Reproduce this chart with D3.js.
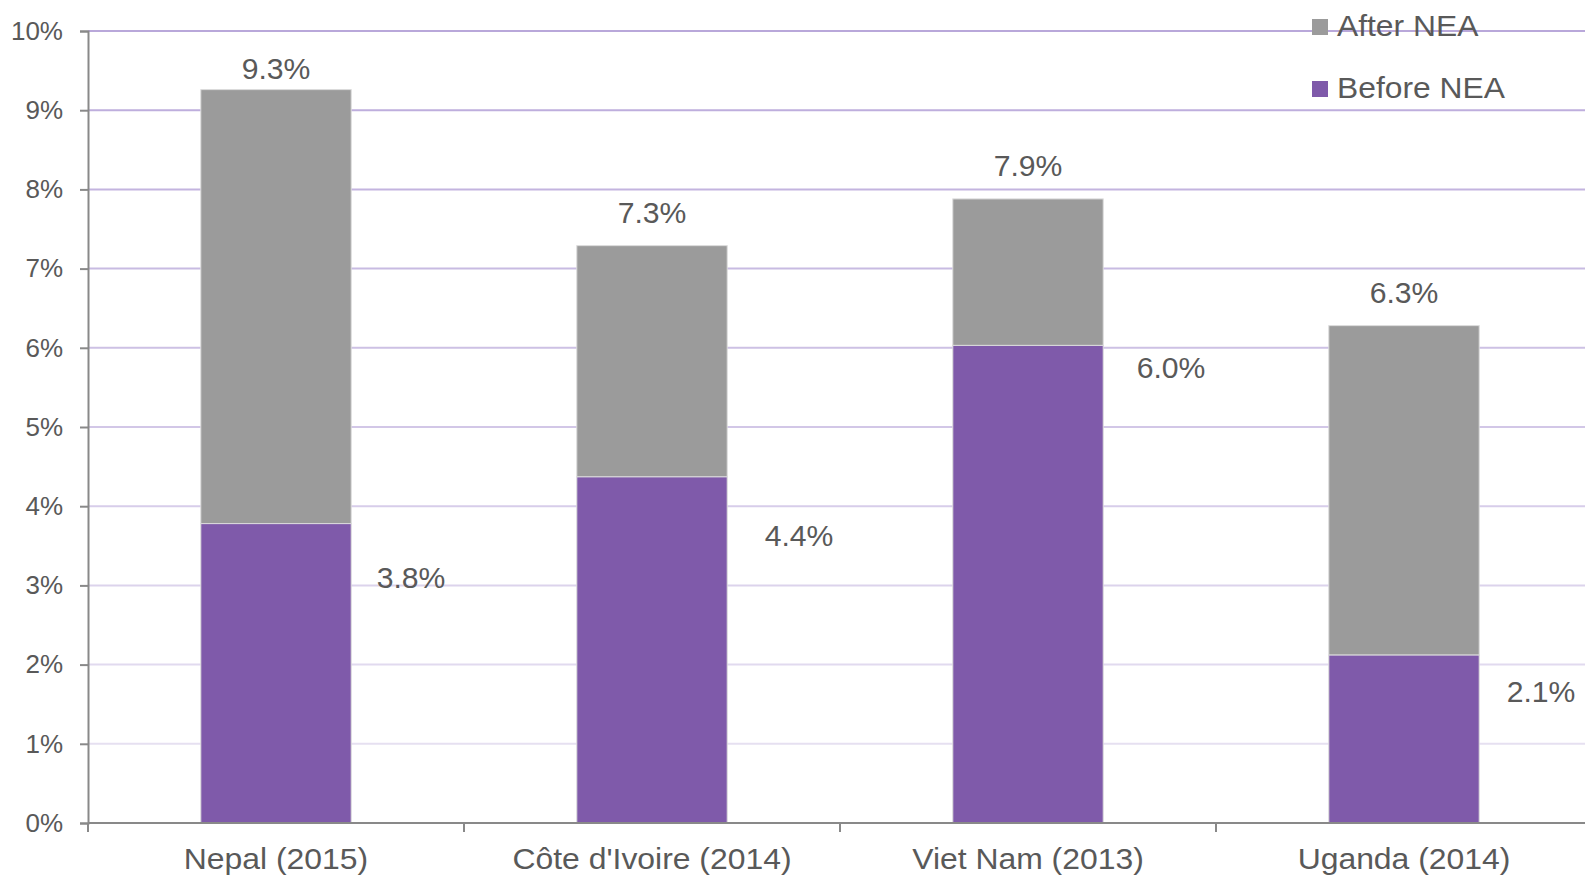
<!DOCTYPE html>
<html>
<head>
<meta charset="utf-8">
<script src="https://cdn.jsdelivr.net/npm/d3@7/dist/d3.min.js"></script>
<style>
html,body{margin:0;padding:0;background:#fff;}
svg{display:block;font-family:"Liberation Sans",Arial,sans-serif;}
</style>
</head>
<body>
<svg id="chart" width="1585" height="877"></svg>
<script>
const categories = ["Nepal (2015)", "Côte d'Ivoire (2014)", "Viet Nam (2013)", "Uganda (2014)"];
const beforeNEA = [3.78, 4.37, 6.03, 2.12];
const afterNEA = [9.26, 7.29, 7.88, 6.28];
const beforeLabels = ["3.8%", "4.4%", "6.0%", "2.1%"];
const afterLabels = ["9.3%", "7.3%", "7.9%", "6.3%"];
const yTicks = [0, 1, 2, 3, 4, 5, 6, 7, 8, 9, 10];
const seriesNames = ["After NEA", "Before NEA"];

const svg = d3.select("#chart");
const textColor = "#595959";
const axisColor = "#898989";
const grey = "#9b9b9b";
const purple = "#7f5aaa";

const x0 = 88, step = 376;
const x = d3.scaleBand().domain(categories)
  .range([x0, x0 + step * categories.length])
  .paddingInner(0.6).paddingOuter(0.3);
const y = d3.scaleLinear().domain([0, 10]).range([823, 31]);

const gridColor = d3.scaleLinear().domain([0, 10]).range(["#ebe6f4", "#b9a8da"]);

// gridlines
svg.append("g").selectAll("line").data(yTicks.filter(t => t > 0)).join("line")
  .attr("x1", x0).attr("x2", 1585)
  .attr("y1", d => y(d)).attr("y2", d => y(d))
  .attr("stroke", d => gridColor(d)).attr("stroke-width", 2);

// y axis
const yAxis = svg.append("g").attr("transform", `translate(${x0},0)`)
  .call(d3.axisLeft(y).tickValues(yTicks).tickFormat(d => d + "%").tickSize(8).tickPadding(17));
yAxis.select(".domain").attr("stroke", axisColor).attr("stroke-width", 2);
yAxis.selectAll(".tick line").attr("stroke", axisColor).attr("stroke-width", 2);
yAxis.selectAll(".tick text").attr("fill", textColor).style("font-size", "26px")
  .style("font-family", "'Liberation Sans', Arial, sans-serif");

// bars
const g = svg.append("g");
g.selectAll("rect.after").data(categories).join("rect")
  .attr("x", d => x(d)).attr("width", x.bandwidth())
  .attr("y", (d, i) => y(afterNEA[i]))
  .attr("height", (d, i) => y(beforeNEA[i]) - y(afterNEA[i]))
  .attr("fill", grey).attr("stroke", "#dcdcdc").attr("stroke-width", 1);
g.selectAll("rect.before").data(categories).join("rect")
  .attr("x", d => x(d)).attr("width", x.bandwidth())
  .attr("y", (d, i) => y(beforeNEA[i]))
  .attr("height", (d, i) => y(0) - y(beforeNEA[i]))
  .attr("fill", purple).attr("stroke", "#dcdcdc").attr("stroke-width", 1);

// x axis
svg.append("line").attr("x1", x0).attr("x2", 1585).attr("y1", y(0)).attr("y2", y(0))
  .attr("stroke", axisColor).attr("stroke-width", 2);
svg.append("g").selectAll("line").data(d3.range(categories.length + 1)).join("line")
  .attr("x1", i => x0 + i * x.step()).attr("x2", i => x0 + i * x.step())
  .attr("y1", y(0)).attr("y2", y(0) + 9)
  .attr("stroke", axisColor).attr("stroke-width", 2);
svg.append("g").selectAll("text").data(categories).join("text")
  .attr("transform", d => `translate(${x(d) + x.bandwidth() / 2},869) scale(1.1,1)`)
  .attr("text-anchor", "middle").attr("fill", textColor).style("font-size", "29px")
  .text(d => d);

// top labels
const topNudge = [11, 23, 23, 23];
svg.append("g").selectAll("text").data(categories).join("text")
  .attr("transform", (d, i) => `translate(${x(d) + x.bandwidth() / 2},${y(afterNEA[i]) - topNudge[i]}) scale(1.04,1)`)
  .attr("text-anchor", "middle").attr("fill", textColor).style("font-size", "29px")
  .text((d, i) => afterLabels[i]);

// before labels
const beforeNudge = [64, 69, 33, 47];
const beforeShift = [135, 147, 143, 137];
svg.append("g").selectAll("text").data(categories).join("text")
  .attr("transform", (d, i) => `translate(${x(d) + x.bandwidth() / 2 + beforeShift[i]},${y(beforeNEA[i]) + beforeNudge[i]}) scale(1.04,1)`)
  .attr("text-anchor", "middle").attr("fill", textColor).style("font-size", "29px")
  .text((d, i) => beforeLabels[i]);

// legend
const legColors = [grey, purple];
const leg = svg.append("g").selectAll("g").data(seriesNames).join("g")
  .attr("transform", (d, i) => `translate(1312,${19 + i * 62})`);
leg.append("rect").attr("width", 16).attr("height", 16).attr("fill", (d, i) => legColors[i]);
leg.append("text").attr("transform", "translate(25,17) scale(1.06,1)").attr("fill", textColor)
  .style("font-size", "30px").text(d => d);
</script>
</body>
</html>
